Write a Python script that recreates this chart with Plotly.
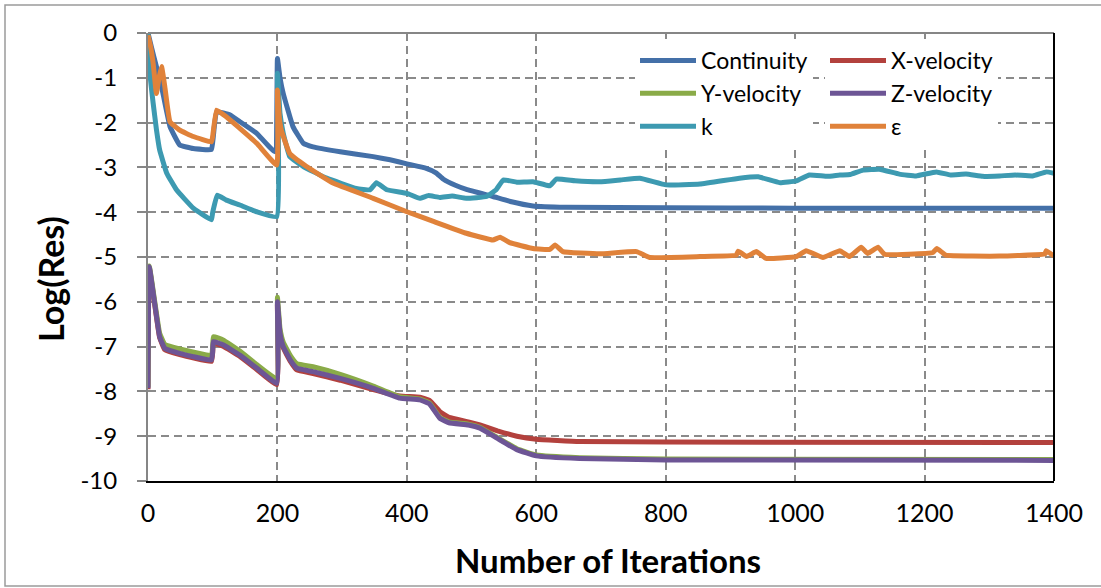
import plotly.graph_objects as go

# ---------------- data ----------------
cont_it = [0, 5, 13, 21, 34, 49, 70, 98, 101, 106, 127, 142, 168, 196, 200, 204, 209, 224, 240, 255,
           297, 348, 374, 400, 430, 445, 456, 475, 492, 533, 560, 595, 646, 800, 1000, 1200, 1400]
cont_val = [0, -0.3, -0.75, -1.2, -2.09, -2.5, -2.58, -2.6, -2.3, -1.76, -1.83, -1.98, -2.24, -2.65, -0.57, -1.0,
            -1.35, -2.09, -2.46, -2.54, -2.65, -2.76, -2.83, -2.92, -3.02, -3.12, -3.26, -3.4, -3.49, -3.65, -3.76,
            -3.86, -3.89, -3.9, -3.91, -3.91, -3.91]

z_it = [0, 2, 10, 18, 26, 49, 98, 100, 101, 116, 142, 168, 199, 200, 204, 209, 220, 230, 255, 297, 348, 389,
        420, 435, 451, 465, 495, 513, 540, 570, 600, 667, 800, 1400]
z_val = [-7.93, -5.22, -6.0, -6.78, -7.04, -7.15, -7.3, -7.1, -6.89, -6.96, -7.19, -7.48, -7.82, -6.0, -6.7,
         -7.0, -7.3, -7.48, -7.56, -7.71, -7.93, -8.15, -8.19, -8.28, -8.6, -8.7, -8.75, -8.82, -9.05, -9.3,
         -9.44, -9.5, -9.53, -9.54]

y_it = [0, 2, 10, 18, 26, 49, 98, 100, 101, 116, 142, 168, 199, 200, 204, 209, 220, 230, 255, 297, 348, 389,
        420, 435, 451, 465, 495, 513, 540, 570, 600, 667, 800, 1400]
y_val = [-7.9, -5.2, -5.95, -6.7, -6.95, -7.05, -7.2, -7.0, -6.78, -6.85, -7.1, -7.4, -7.72, -5.9, -6.6,
         -6.9, -7.2, -7.38, -7.45, -7.62, -7.88, -8.12, -8.17, -8.26, -8.58, -8.68, -8.73, -8.8, -9.03, -9.28,
         -9.42, -9.48, -9.51, -9.52]

x_it = [0, 2, 10, 18, 26, 49, 98, 100, 101, 116, 142, 168, 199, 200, 204, 209, 220, 230, 255, 297, 348, 389,
        420, 435, 451, 465, 495, 513, 540, 570, 600, 667, 800, 1400]
x_val = [-7.95, -5.25, -6.03, -6.8, -7.07, -7.18, -7.33, -7.13, -6.92, -6.99, -7.22, -7.51, -7.85, -6.05, -6.75,
         -7.03, -7.33, -7.52, -7.6, -7.75, -7.96, -8.1, -8.13, -8.2, -8.45, -8.58, -8.68, -8.75, -8.88, -9.0,
         -9.07, -9.12, -9.13, -9.14]

k_it = [0, 3, 8, 13, 18, 29, 44, 70, 98, 100, 107, 121, 142, 168, 199, 200, 204, 209, 219, 240, 276, 322, 343,
        353, 369, 400, 420, 433, 451, 470, 492, 523, 538, 549, 570, 595, 621, 631, 660, 698, 730, 760, 801, 853,
        914, 943, 976, 1002, 1022, 1050, 1069, 1085, 1105, 1130, 1161, 1187, 1218, 1240, 1264, 1290, 1316, 1340,
        1367, 1388, 1400]
k_val = [0, -0.9, -1.57, -2.15, -2.61, -3.13, -3.5, -3.91, -4.17, -4.0, -3.62, -3.73, -3.84, -3.99, -4.1, -0.9,
         -1.8, -2.24, -2.76, -2.98, -3.24, -3.47, -3.5, -3.34, -3.5, -3.58, -3.69, -3.63, -3.67, -3.64, -3.69,
         -3.65, -3.5, -3.28, -3.33, -3.32, -3.41, -3.26, -3.3, -3.32, -3.28, -3.24, -3.39, -3.37, -3.24, -3.21,
         -3.34, -3.3, -3.17, -3.2, -3.17, -3.16, -3.06, -3.04, -3.15, -3.19, -3.1, -3.17, -3.15, -3.2, -3.19, -3.17,
         -3.19, -3.1, -3.13]

e_it = [0, 4, 8, 13, 17, 21, 26, 34, 49, 70, 98, 100, 106, 121, 142, 168, 199, 200, 203, 206, 219, 245, 286,
        348, 400, 440, 492, 533, 544, 559, 595, 621, 629, 641, 698, 755, 775, 853, 909, 912, 925, 940, 955, 1002,
        1017, 1043, 1069, 1084, 1102, 1112, 1128, 1138, 1213, 1219, 1233, 1316, 1386, 1388, 1400]
e_val = [-0.05, -0.3, -0.68, -1.35, -1.0, -0.75, -1.2, -1.98, -2.17, -2.31, -2.43, -2.3, -1.72, -1.87, -2.13,
         -2.46, -2.95, -1.27, -1.9, -2.17, -2.69, -2.98, -3.35, -3.69, -3.99, -4.2, -4.47, -4.62, -4.56, -4.68,
         -4.81, -4.83, -4.73, -4.88, -4.93, -4.88, -5.01, -4.99, -4.96, -4.87, -4.99, -4.88, -5.03, -4.99, -4.86,
         -5.01, -4.86, -4.99, -4.78, -4.92, -4.78, -4.94, -4.9, -4.81, -4.96, -4.98, -4.93, -4.86, -4.98]

x_ticks = [0, 200, 400, 600, 800, 1000, 1200, 1400]
y_ticks = [0, -1, -2, -3, -4, -5, -6, -7, -8, -9, -10]

series = [
    ("Continuity", cont_it, cont_val, "#4470a8", "legend"),
    ("X-velocity", x_it, x_val, "#b3413d", "legend2"),
    ("Y-velocity", y_it, y_val, "#8aab48", "legend"),
    ("Z-velocity", z_it, z_val, "#6d5595", "legend2"),
    ("k", k_it, k_val, "#3d9ab1", "legend"),
    ("ε", e_it, e_val, "#e0823a", "legend2"),
]

FONT = "Lato, 'Open Sans', sans-serif"

fig = go.Figure()
for name, xs, ys, col, lg in series:
    fig.add_trace(go.Scatter(x=xs, y=ys, mode="lines", name=name, legend=lg, legendgroup=name,
                             line=dict(color=col, width=5, shape="spline", smoothing=0.3)))

L, R, T, B = 148, 47, 33, 107
W, H = 1101, 588
pw, ph = W - L - R, H - T - B


def px(xp):
    return (xp - L) / pw


def py(yp):
    return (H - B - yp) / ph


grid = dict(showgrid=True, gridcolor="#8a8a8a", gridwidth=1.8, griddash="8px,5px")

fig.update_layout(
    width=W, height=H, margin=dict(l=L, r=R, t=T, b=B),
    paper_bgcolor="white", plot_bgcolor="white",
    font=dict(family=FONT, color="black"),
    xaxis=dict(range=[0, 1400], tickvals=x_ticks, ticktext=[str(v) for v in x_ticks], zeroline=False,
               showline=True, linecolor="black", linewidth=2, ticks="", ticklabelstandoff=9,
               tickfont=dict(size=25), **grid),
    yaxis=dict(range=[-10, 0], tickvals=y_ticks, ticktext=[str(v) for v in y_ticks], zeroline=False,
               showline=True, linecolor="#868686", linewidth=2, ticks="outside", ticklen=9,
               tickcolor="#868686", tickwidth=2, ticklabelstandoff=15, tickfont=dict(size=24), **grid),
    legend=dict(x=px(635), y=py(39), xanchor="left", yanchor="top", bgcolor="white", borderwidth=0,
                font=dict(size=23), itemwidth=56, tracegroupgap=0, orientation="v"),
    legend2=dict(x=px(825), y=py(39), xanchor="left", yanchor="top", bgcolor="white", borderwidth=0,
                 font=dict(size=23), itemwidth=56, tracegroupgap=0, orientation="v"),
    showlegend=True,
)

# frame lines of the plot area
fig.add_shape(type="line", xref="paper", yref="paper", x0=0, x1=1, y0=1, y1=1,
              line=dict(color="#868686", width=2))
fig.add_shape(type="line", xref="paper", yref="paper", x0=1, x1=1, y0=0, y1=1,
              line=dict(color="black", width=2))
# outer chart border
fig.add_shape(type="rect", xref="paper", yref="paper", x0=px(5), x1=px(1106), y0=py(586), y1=py(5),
              line=dict(color="#9a9a9a", width=1.5), layer="below")

fig.add_annotation(text="<b>Number of Iterations</b>", xref="paper", yref="paper", x=px(608), y=py(560),
                   showarrow=False, font=dict(size=33), xanchor="center", yanchor="middle")
fig.add_annotation(text="<b>Log(Res)</b>", xref="paper", yref="paper", x=px(50), y=py(279),
                   showarrow=False, font=dict(size=34), textangle=-90, xanchor="center", yanchor="middle")

fig.write_html("out.html")
